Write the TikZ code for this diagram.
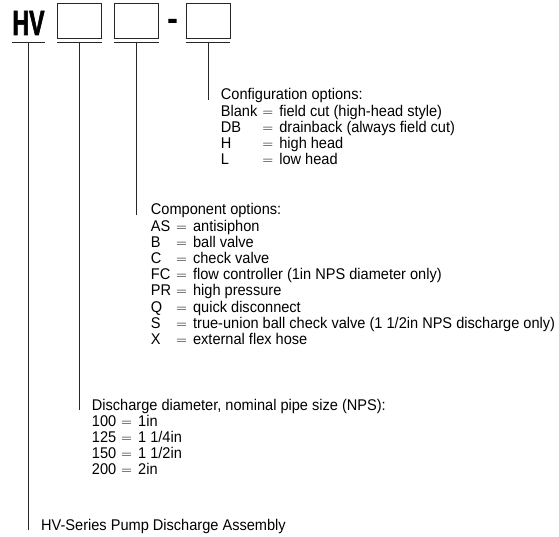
\documentclass[tikz,border=0pt]{standalone}
\usepackage{fontspec}
\setmainfont{Liberation Sans}[FakeStretch=0.94]
\newfontfamily\hvfont{Liberation Sans}[FakeStretch=0.66, FakeBold=1.6]
\usepackage{array}
\tikzset{
  codebox/.style={draw=black!85, line width=0.8pt, minimum width=44pt, minimum height=35pt, inner sep=0pt},
  optlist/.style={anchor=base west, inner sep=0pt, align=left, font=\fontsize{15.5}{16.2}\selectfont},
  leader/.style={draw=black!85, line width=0.8pt},
}
\newcolumntype{E}{@{\hspace{5pt}$=$\hspace{6pt}}}
\begin{document}
\begin{tikzpicture}[x=1pt,y=-1pt]
    \useasboundingbox (0,0) rectangle (559,537);

    % the order code: HV [ ] [ ] - [ ]
    \node[inner sep=0pt, anchor=base, font=\hvfont\fontsize{35}{35}\selectfont\bfseries] (hv) at (28.5,35) {HV};
    \node[codebox] (boxdia) at (79.5,20.8) {};
    \node[codebox] (boxcmp) at (136.5,20.8) {};
    \node[inner sep=0pt, anchor=base, font=\fontsize{35}{35}\selectfont\bfseries] (dash) at (172.5,31) {-};
    \node[codebox] (boxcfg) at (208,20.8) {};

    % option lists
    \node[optlist] (cfg) at (220.7,100) {\begin{tabular}[t]{@{}lEl@{}}
      \multicolumn{2}{@{}l@{}}{Configuration options:}\\
      Blank & field cut (high-head style)\\
      DB    & drainback (always field cut)\\
      H     & high head\\
      L     & low head
    \end{tabular}};
    \node[optlist] (cmp) at (150.7,215) {\begin{tabular}[t]{@{}lEl@{}}
      \multicolumn{2}{@{}l@{}}{Component options:}\\
      AS & antisiphon\\
      B  & ball valve\\
      C  & check valve\\
      FC & flow controller (1in NPS diameter only)\\
      PR & high pressure\\
      Q  & quick disconnect\\
      S  & true-union ball check valve (1 1/2in NPS discharge only)\\
      X  & external flex hose
    \end{tabular}};
    \node[optlist] (dia) at (91.7,410) {\begin{tabular}[t]{@{}lEl@{}}
      \multicolumn{2}{@{}l@{}}{Discharge diameter, nominal pipe size (NPS):}\\
      100 & 1in\\
      125 & 1 1/4in\\
      150 & 1 1/2in\\
      200 & 2in
    \end{tabular}};
    \node[optlist] (hvs) at (41,530) {HV-Series Pump Discharge Assembly};

    % underlines and leaders
    \foreach \b in {hv,boxdia,boxcmp,boxcfg}
        \draw[leader] (\b.west |- 0,42) -- coordinate (\b-u) (\b.east |- 0,42);
    \draw[leader] (hv-u) -- (hv-u |- hvs.base);
    \draw[leader] (boxdia-u) -- (boxdia-u |- dia.base);
    \draw[leader] (boxcmp-u) -- (boxcmp-u |- cmp.base);
    \draw[leader] (boxcfg-u) -- (boxcfg-u |- cfg.base);
\end{tikzpicture}
\end{document}
